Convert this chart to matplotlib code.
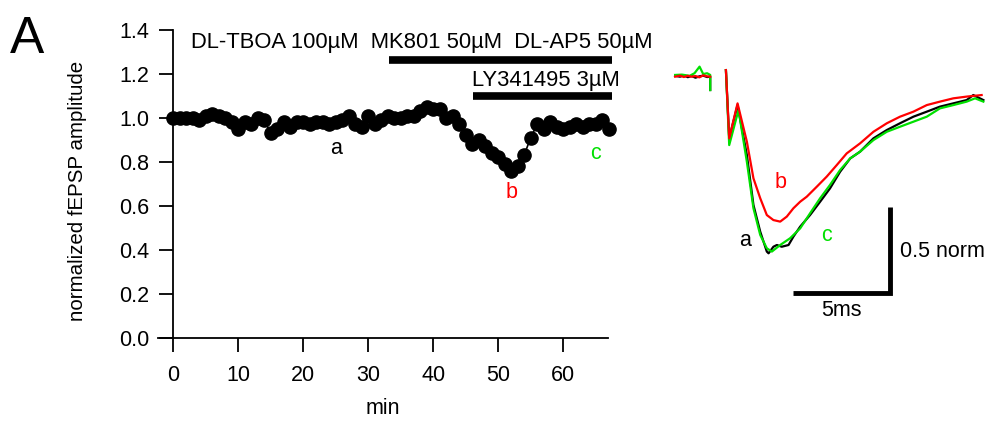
import numpy as np
import matplotlib
matplotlib.use("Agg")
from matplotlib import pyplot as plt

plt.rcParams['font.family'] = ['Liberation Sans', 'DejaVu Sans']
plt.rcParams['font.size'] = 15.5

# Time course (min) and normalized fEPSP amplitude
minutes = np.arange(0, 68)
amplitude = [1.00, 1.00, 1.00, 1.00, 0.99, 1.01, 1.02, 1.01, 1.00, 0.98,
             0.95, 0.98, 0.97, 1.00, 0.99, 0.93, 0.95, 0.98, 0.96, 0.98,
             0.98, 0.97, 0.98, 0.98, 0.97, 0.98, 0.99, 1.01, 0.97, 0.96,
             1.01, 0.97, 0.99, 1.01, 1.00, 1.00, 1.01, 1.01, 1.03, 1.05,
             1.04, 1.04, 1.00, 1.01, 0.97, 0.92, 0.88, 0.90, 0.87, 0.84,
             0.82, 0.79, 0.76, 0.78, 0.83, 0.91, 0.97, 0.95, 0.98, 0.96,
             0.95, 0.96, 0.97, 0.96, 0.97, 0.97, 0.99, 0.95]

# drug application bars (start, end, level)
mk801_bar = (33.2, 67.5, 1.265)
ly_bar = (46.1, 67.5, 1.10)

# example traces (ms, norm); NaN = gap after stimulus artifact
trace_a_t = [0.15, 0.4, 0.6, 0.8, 1.0, 1.2, 1.4, 1.6, 1.8, 1.96, 1.96, np.nan,
             2.77, 2.94, 3.37, 3.85, 4.19, 4.54, 4.88, 4.97, 5.22, 5.40, 5.65,
             6.00, 6.25, 6.60, 7.11, 7.63, 8.14, 8.66, 9.18, 9.69, 10.38,
             11.07, 11.75, 12.44, 13.13, 13.81, 14.50, 15.19, 15.53, 16.05]
trace_a_v = [0.005, 0.0, 0.008, -0.003, 0.004, -0.006, 0.002, 0.006, -0.002, 0.0, -0.077, np.nan,
             0.038, -0.356, -0.164, -0.452, -0.741, -0.895, -1.010, -1.020, -0.982, -0.972, -0.982,
             -0.972, -0.924, -0.866, -0.799, -0.722, -0.645, -0.549, -0.472, -0.433, -0.356,
             -0.308, -0.269, -0.231, -0.202, -0.173, -0.154, -0.135, -0.106, -0.135]

trace_b_t = [0.15, 0.4, 0.6, 0.8, 1.0, 1.2, 1.4, 1.6, 1.8, 1.96, np.nan,
             2.77, 2.94, 3.37, 3.85, 4.19, 4.54, 4.88, 5.22, 5.57, 5.91, 6.25,
             6.60, 6.94, 7.46, 7.97, 8.49, 9.00, 9.69, 10.38, 11.07, 11.75,
             12.44, 13.13, 13.81, 14.50, 15.19, 15.96]
trace_b_v = [0.0, 0.006, -0.002, 0.005, 0.0, 0.004, -0.004, 0.008, 0.002, 0.0, np.nan,
             0.038, -0.356, -0.154, -0.375, -0.587, -0.702, -0.799, -0.828, -0.837, -0.808, -0.760,
             -0.722, -0.693, -0.635, -0.577, -0.510, -0.443, -0.385, -0.318, -0.269, -0.231,
             -0.202, -0.164, -0.144, -0.125, -0.115, -0.106]

trace_c_t = [0.15, 0.5, 0.9, 1.15, 1.41, 1.6, 1.8, 1.96, 1.96, np.nan,
             2.77, 2.94, 3.42, 3.85, 4.19, 4.54, 4.88, 5.14, 5.57, 6.08,
             6.60, 7.11, 7.63, 8.14, 8.66, 9.18, 9.69, 10.38, 11.07, 11.75,
             12.44, 13.13, 13.81, 14.50, 15.19, 15.62, 16.05]
trace_c_v = [0.01, 0.012, 0.005, 0.02, 0.058, 0.015, 0.02, 0.01, -0.077, np.nan,
             0.038, -0.395, -0.192, -0.491, -0.760, -0.914, -0.991, -1.010, -0.972, -0.933,
             -0.876, -0.789, -0.702, -0.625, -0.539, -0.472, -0.433, -0.366, -0.318, -0.289,
             -0.260, -0.231, -0.183, -0.164, -0.144, -0.125, -0.144]

fig = plt.figure(figsize=(9.87, 4.23), dpi=100)

# Time course panel
ax = fig.add_axes([0.160, 0.2017, 0.456, 0.7274])
ax.plot(minutes, amplitude, 'k-', lw=1.2, marker='o', ms=9.5, clip_on=False)
ax.set_xlim(-2.35, 66.9)
ax.set_ylim(0, 1.4)
ax.spines['top'].set_visible(False)
ax.spines['right'].set_visible(False)
ax.spines['left'].set_position(('data', 0))
for s in ('left', 'bottom'):
    ax.spines[s].set_linewidth(1.3)
ax.set_xticks(np.arange(0, 61, 10))
ax.set_yticks(np.arange(0, 1.41, 0.2))
ax.yaxis.set_major_formatter(matplotlib.ticker.FormatStrFormatter('%.1f'))
ax.tick_params(length=10, width=1.3)
ax.tick_params(axis='x', pad=10)
ax.tick_params(axis='y', pad=7)
ax.set_xlabel('min', labelpad=8)
ax.set_ylabel('normalized fEPSP amplitude', fontsize=14.8)
ax.yaxis.set_label_coords(-0.158, 0.477)

ax.plot(mk801_bar[:2], [mk801_bar[2]] * 2, 'k-', lw=5.5, solid_capstyle='butt', clip_on=False)
ax.plot(ly_bar[:2], [ly_bar[2]] * 2, 'k-', lw=5.5, solid_capstyle='butt', clip_on=False)
ax.text(2.7, 1.345, 'DL-TBOA 100µM  MK801 50µM  DL-AP5 50µM', va='center', ha='left',
        fontsize=15.8)
ax.text(46.0, 1.17, 'LY341495 3µM', va='center', ha='left', fontsize=15.8)
ax.text(25, 0.86, 'a', color='black', ha='center', va='center')
ax.text(52, 0.66, 'b', color='red', ha='center', va='center')
ax.text(65, 0.84, 'c', color='#00e000', ha='center', va='center')

fig.text(0.010, 0.965, 'A', fontsize=37, va='top', ha='left')

# Example traces panel
ax2 = fig.add_axes([0.674, 0.22, 0.329, 0.650])
ax2.plot(trace_a_t, trace_a_v, color='black', lw=1.6)
ax2.plot(trace_c_t, trace_c_v, color='#00e000', lw=1.6)
ax2.plot(trace_b_t, trace_b_v, color='red', lw=1.6)
ax2.set_xlim(-0.36, 16.39)
ax2.set_ylim(-1.4625, 0.1253)
ax2.axis('off')
ax2.plot([6.24, 11.24, 11.24], [-1.251, -1.251, -0.751], 'k-', lw=3.5,
         solid_joinstyle='miter', solid_capstyle='butt')
ax2.text(11.75, -1.01, '0.5 norm', ha='left', va='center')
ax2.text(8.74, -1.35, '5ms', ha='center', va='center')
ax2.text(3.76, -0.944, 'a', color='black', ha='center', va='center')
ax2.text(5.57, -0.61, 'b', color='red', ha='center', va='center')
ax2.text(7.94, -0.92, 'c', color='#00e000', ha='center', va='center')

fig.savefig('out.png', dpi=100)
